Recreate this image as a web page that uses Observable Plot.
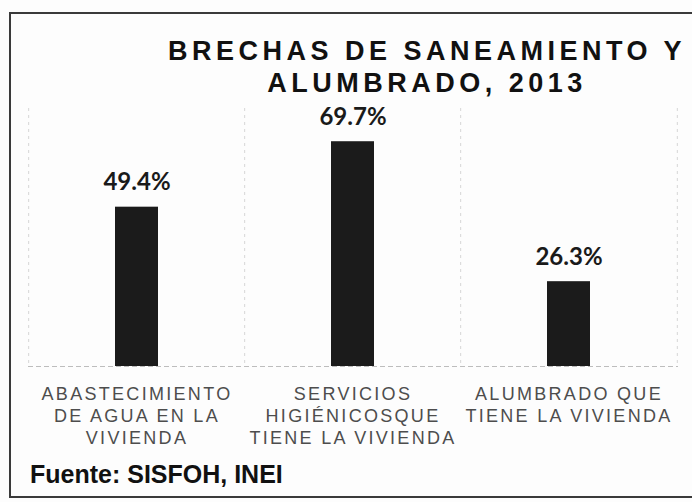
<!DOCTYPE html>
<html>
<head>
<meta charset="utf-8">
<script src="https://cdn.jsdelivr.net/npm/d3@7"></script>
<script src="https://cdn.jsdelivr.net/npm/@observablehq/plot@0.6"></script>
<style>
  html, body { margin: 0; padding: 0; background: #fdfdfd; }
  body { width: 692px; height: 502px; position: relative; overflow: hidden; }
  #frame { position: absolute; left: 9px; top: 12px; width: 800px; height: 482px; border: 2px solid #3a3a3a; }
  #title { position: absolute; left: 0; top: 35px; width: 854px; text-align: center;
    font-family: "Liberation Sans", Arial, sans-serif; font-weight: bold; font-size: 27px;
    line-height: 32px; letter-spacing: 4.5px; color: #111; }
  #chart { position: absolute; left: 0; top: 100px; }
  #footer { position: absolute; left: 30px; top: 460px; font-family: "Liberation Sans", Arial, sans-serif;
    font-weight: bold; font-size: 25px; color: #111; white-space: nowrap; }
  .chart g[aria-label="x-axis tick label"] text { letter-spacing: 2.3px; }
</style>
</head>
<body>
<div id="frame"></div>
<div id="title">BRECHAS DE SANEAMIENTO Y<br>ALUMBRADO, 2013</div>
<div id="chart"></div>
<div id="footer">Fuente: SISFOH, INEI</div>
<script>
const categories = [
  "ABASTECIMIENTO\nDE AGUA EN LA\nVIVIENDA",
  "SERVICIOS\nHIGIÉNICOSQUE\nTIENE LA VIVIENDA",
  "ALUMBRADO QUE\nTIENE LA VIVIENDA"
];
const values = [49.4, 69.7, 26.3];
const valueLabels = ["49.4%", "69.7%", "26.3%"];

const data = categories.map((c, i) => ({category: c, value: values[i], label: valueLabels[i]}));

const W = 692, H = 350, ML = 28, MR = 14, MT = 8, MB = 84;
const step = (W - ML - MR) / categories.length;

const plot = Plot.plot({
  width: W,
  height: H,
  marginLeft: ML,
  marginRight: MR,
  marginTop: MT,
  marginBottom: MB,
  className: "chart",
  style: {background: "transparent", overflow: "visible"},
  x: {domain: categories, paddingInner: 0.8, paddingOuter: 0.4, label: null},
  y: {domain: [0, 80], axis: null},
  marks: [
    Plot.ruleX(categories, {x: d => d, dx: -step / 2, stroke: "#d6d6d6", strokeDasharray: "3,4"}),
    Plot.ruleX(categories.slice(-1), {x: d => d, dx: step / 2, stroke: "#d6d6d6", strokeDasharray: "3,4"}),
    Plot.ruleY([0], {stroke: "#bdbdbd", strokeDasharray: "5,3"}),
    Plot.barY(data, {x: "category", y: "value", fill: "#1b1b1b"}),
    Plot.text(data, {x: "category", y: "value", text: "label", lineAnchor: "bottom", dy: -17,
      fontSize: 24, fontWeight: "bold", fontFamily: "Lato, 'Open Sans', sans-serif", fill: "#1a1a1a"}),
    Plot.axisX({tickSize: 0, tickPadding: 18, fontSize: 18, lineHeight: 1.22,
      fontFamily: "'Liberation Sans', Arial, sans-serif",
      fill: "#4d4d4d", label: null, textOverflow: null})
  ]
});
document.getElementById("chart").appendChild(plot);
</script>
</body>
</html>
